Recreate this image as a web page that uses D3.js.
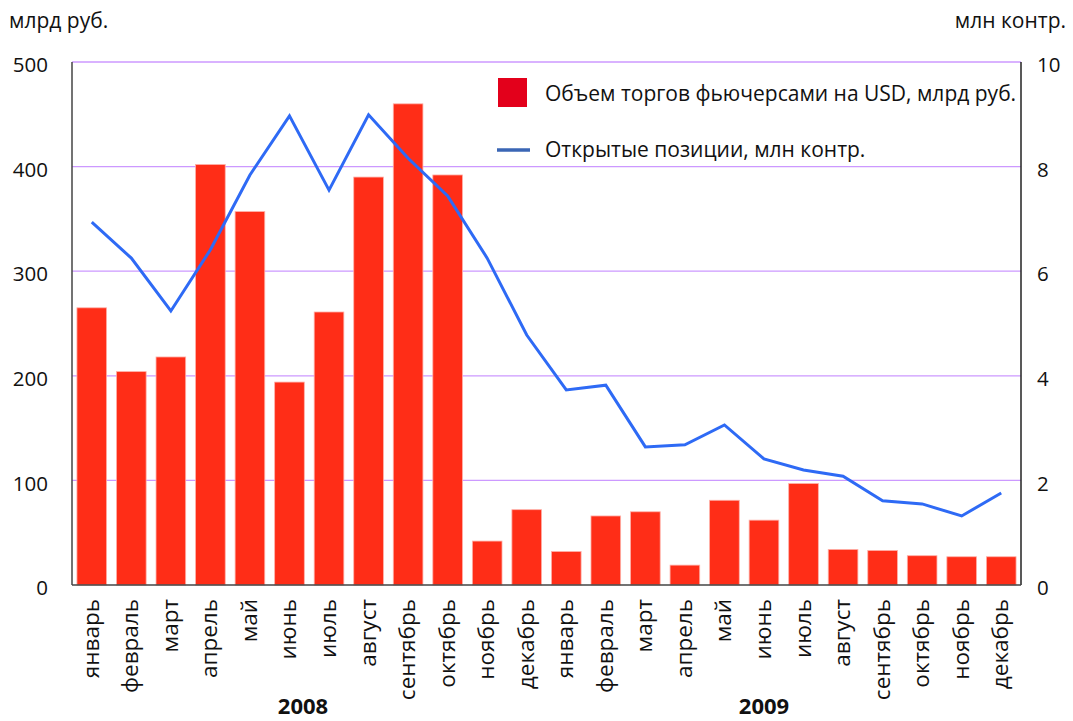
<!DOCTYPE html>
<html><head><meta charset="utf-8">
<script src="https://cdn.jsdelivr.net/npm/d3@7"></script>
<style>body{margin:0;background:#fff;} text{font-family:"Open Sans",sans-serif;}</style>
</head><body><svg id="c" width="1073" height="721"></svg>
<script>
const months = ["январь","февраль","март","апрель","май","июнь","июль","август","сентябрь","октябрь","ноябрь","декабрь",
"январь","февраль","март","апрель","май","июнь","июль","август","сентябрь","октябрь","ноябрь","декабрь"];
const years = ["2008","2009"];
const volume = [265,204,218,402,357,194,261,390,460,392,42,72,32,66,70,19,81,62,97,34,33,28,27,27];
const openPos = [6.94,6.25,5.24,6.41,7.84,8.97,7.55,8.99,8.16,7.44,6.25,4.78,3.73,3.82,2.64,2.68,3.06,2.41,2.20,2.08,1.61,1.55,1.32,1.76];
const leftTicks = [0,100,200,300,400,500];
const rightTicks = [0,2,4,6,8,10];
const legendLabels = ["Объем торгов фьючерсами на USD, млрд руб.","Открытые позиции, млн контр."];

const svg = d3.select("#c");
const L=72, R=1021, T=62, B=585;
const x = d3.scaleBand().domain(d3.range(months.length)).range([L,R]).paddingInner(0.25).paddingOuter(0.125);
const y = d3.scaleLinear().domain([0,500]).range([B,T]);
const y2 = d3.scaleLinear().domain([0,10]).range([B,T]);

// grid
svg.append("g").selectAll("line").data(leftTicks.slice(1)).join("line")
  .attr("x1",L).attr("x2",R).attr("y1",d=>y(d)).attr("y2",d=>y(d))
  .attr("stroke","#cc99ff").attr("stroke-width",1.3);

// bars
svg.append("g").selectAll("rect").data(volume).join("rect")
  .attr("x",(d,i)=>x(i)).attr("width",x.bandwidth())
  .attr("y",d=>y(d)).attr("height",d=>B-y(d))
  .attr("fill","#ff2d17").attr("stroke","#ffb0a8").attr("stroke-width",0.8);

// line
const line = d3.line().x((d,i)=>x(i)+x.bandwidth()/2).y(d=>y2(d));
svg.append("path").datum(openPos).attr("d",line).attr("fill","none")
  .attr("stroke","#2e6af5").attr("stroke-width",3).attr("stroke-linejoin","miter");

// axes lines
svg.append("line").attr("x1",L).attr("x2",L).attr("y1",T).attr("y2",B).attr("stroke","#444").attr("stroke-width",1.5);
svg.append("line").attr("x1",R).attr("x2",R).attr("y1",T).attr("y2",B).attr("stroke","#222").attr("stroke-width",1.5);
svg.append("line").attr("x1",L).attr("x2",R).attr("y1",B).attr("y2",B).attr("stroke","#444").attr("stroke-width",1.5);

// left ticks
const la = svg.append("g").attr("transform",`translate(${L-24},0)`).call(d3.axisLeft(y).tickValues(leftTicks).tickSize(0).tickPadding(0));
la.select(".domain").remove();
la.selectAll("text").attr("font-size",20.5).attr("fill","#111").attr("font-family","'Open Sans',sans-serif").attr("dy","0.47em");
const ra = svg.append("g").attr("transform",`translate(${R+16},0)`).call(d3.axisRight(y2).tickValues(rightTicks).tickSize(0).tickPadding(0));
ra.select(".domain").remove();
ra.selectAll("text").attr("font-size",20.5).attr("fill","#111").attr("font-family","'Open Sans',sans-serif").attr("dy","0.47em");

// month labels
svg.append("g").selectAll("text").data(months).join("text")
  .attr("transform",(d,i)=>`translate(${x(i)+x.bandwidth()/2+7},599) rotate(-90)`)
  .attr("text-anchor","end").attr("font-size",22.5).attr("fill","#111").text(d=>d);

// years
svg.append("g").selectAll("text").data(years).join("text")
  .attr("x",(d,i)=>i===0?303:764).attr("y",714).attr("text-anchor","middle")
  .attr("font-size",22).attr("font-weight","bold").attr("fill","#111").text(d=>d);

// axis titles
svg.append("text").attr("x",9).attr("y",28).attr("font-size",21).attr("fill","#111").text("млрд руб.");
svg.append("text").attr("x",1066).attr("y",28).attr("text-anchor","end").attr("font-size",21).attr("fill","#111").text("млн контр.");

// legend
svg.append("rect").attr("x",498).attr("y",78).attr("width",29).attr("height",29).attr("fill","#e3001b");
svg.append("line").attr("x1",497).attr("x2",530).attr("y1",150).attr("y2",150).attr("stroke","#3a66b5").attr("stroke-width",3.5);
svg.append("g").selectAll("text").data(legendLabels).join("text")
  .attr("x",545).attr("y",(d,i)=>i===0?101:157).attr("font-size",21).attr("fill","#111").text(d=>d);
</script></body></html>
